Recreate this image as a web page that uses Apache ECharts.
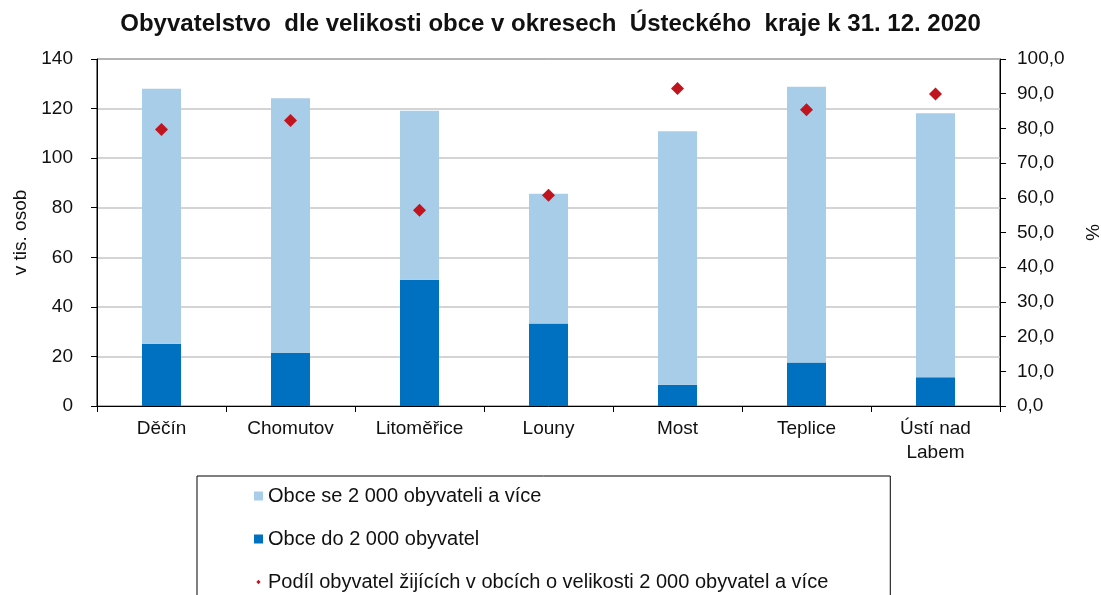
<!DOCTYPE html>
<html>
<head>
<meta charset="utf-8">
<script src="https://cdn.jsdelivr.net/npm/echarts@6/dist/echarts.min.js"></script>
<style>
  html, body { margin: 0; padding: 0; background: #fff; }
  #chart { width: 1101px; height: 595px; }
</style>
</head>
<body>
<div id="chart"></div>
<script>
const categories = ['Děčín', 'Chomutov', 'Litoměřice', 'Louny', 'Most', 'Teplice', 'Ústí nad\nLabem'];
const small = [25.1, 21.4, 50.9, 33.3, 8.6, 17.6, 11.6];      // Obce do 2 000 obyvatel (tis.)
const large = [102.9, 102.8, 68.2, 52.3, 102.2, 111.2, 106.5]; // Obce se 2 000 obyvateli a více (tis.)
const share = [79.7, 82.3, 56.4, 60.7, 91.5, 85.4, 89.9];      // Podíl (%)
const leftTicks = [0, 140, 20];
const rightTicks = [0, 100, 10];

const FONT = '"Liberation Sans", Arial, sans-serif';
const TXT = '#111';

const chart = echarts.init(document.getElementById('chart'), null, { renderer: 'canvas' });
chart.setOption({
  animation: false,
  textStyle: { fontFamily: FONT, color: TXT },
  title: {
    text: 'Obyvatelstvo  dle velikosti obce v okresech  Ústeckého  kraje k 31. 12. 2020',
    left: 'center', top: 7,
    textStyle: { fontFamily: FONT, fontWeight: 'bold', fontSize: 24, color: TXT }
  },
  grid: {
    left: 97, right: 101, top: 59, bottom: 189,
    outerBoundsMode: 'none',
    containLabel: false,
    show: true, borderColor: '#000', borderWidth: 1, backgroundColor: 'transparent'
  },
  legend: {
    orient: 'vertical',
    left: 197, top: 476, height: 200,
    padding: [10, 62, 20, 57],
    borderColor: '#000', borderWidth: 1,
    itemGap: 23,
    itemWidth: 9, itemHeight: 9,
    textStyle: { fontFamily: FONT, fontSize: 20, color: TXT, lineHeight: 20 },
    data: [
      { name: 'Obce se 2 000 obyvateli a více', icon: 'rect' },
      { name: 'Obce do 2 000 obyvatel', icon: 'rect' },
      { name: 'Podíl obyvatel žijících v obcích o velikosti 2 000 obyvatel a více',
        icon: 'path://M0,0L0.01,0M10,10L10.01,10M5,2.6L7.4,5L5,7.4L2.6,5Z' }
    ]
  },
  xAxis: {
    type: 'category',
    data: categories,
    axisLine: { lineStyle: { color: '#000', width: 1 } },
    axisTick: { show: true, length: 6, lineStyle: { color: '#000' } },
    axisLabel: { fontFamily: FONT, fontSize: 19, color: TXT, margin: 11, lineHeight: 24, interval: 0 }
  },
  yAxis: [
    {
      type: 'value',
      min: leftTicks[0], max: leftTicks[1], interval: leftTicks[2],
      name: 'v tis. osob',
      nameLocation: 'middle', nameRotate: 90, nameGap: 67,
      nameTextStyle: { fontFamily: FONT, fontSize: 19, color: TXT },
      axisLine: { show: true, lineStyle: { color: '#000', width: 1 } },
      axisTick: { show: true, length: 6, lineStyle: { color: '#000' } },
      axisLabel: { fontFamily: FONT, fontSize: 19, color: TXT, margin: 24 },
      splitLine: { show: true, lineStyle: { color: '#c6c6c6', width: 1.5 } }
    },
    {
      type: 'value',
      min: rightTicks[0], max: rightTicks[1], interval: rightTicks[2],
      name: '%',
      nameLocation: 'middle', nameRotate: -90, nameGap: 82,
      nameTextStyle: { fontFamily: FONT, fontSize: 19, color: TXT },
      axisLine: { show: true, lineStyle: { color: '#000', width: 1 } },
      axisTick: { show: true, length: 6, lineStyle: { color: '#000' } },
      axisLabel: {
        fontFamily: FONT, fontSize: 19, color: TXT, margin: 17,
        formatter: v => v.toFixed(1).replace('.', ',')
      },
      splitLine: { show: false }
    }
  ],
  series: [
    {
      name: 'Obce do 2 000 obyvatel',
      type: 'bar', stack: 'pop', yAxisIndex: 0,
      data: small, barWidth: 39,
      itemStyle: { color: '#0070c0' }
    },
    {
      name: 'Obce se 2 000 obyvateli a více',
      type: 'bar', stack: 'pop', yAxisIndex: 0,
      data: large, barWidth: 39,
      itemStyle: { color: '#a8cde8' }
    },
    {
      name: 'Podíl obyvatel žijících v obcích o velikosti 2 000 obyvatel a více',
      type: 'scatter', yAxisIndex: 1,
      data: share,
      symbol: 'diamond', symbolSize: 13,
      itemStyle: { color: '#c0151f', opacity: 1 },
      z: 5
    }
  ]
});
</script>
</body>
</html>
